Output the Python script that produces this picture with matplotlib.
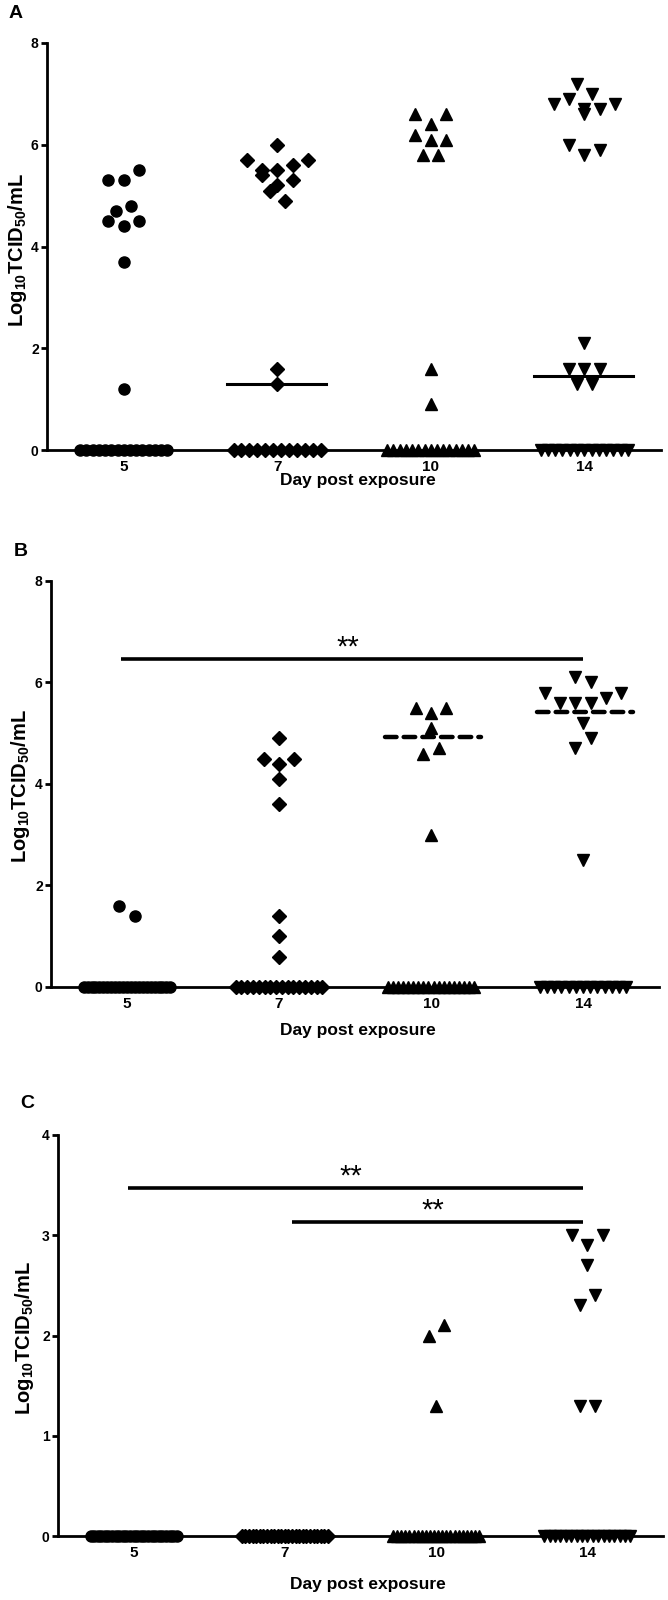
import numpy as np
import matplotlib
matplotlib.use("Agg")
import matplotlib.pyplot as plt

plt.rcParams['font.family'] = ['Liberation Sans', 'DejaVu Sans']
plt.rcParams['font.weight'] = 'bold'
plt.rcParams['mathtext.fontset'] = 'custom'
plt.rcParams['mathtext.rm'] = 'Liberation Sans:bold'
plt.rcParams['mathtext.it'] = 'Liberation Sans:bold'
plt.rcParams['mathtext.bf'] = 'Liberation Sans:bold'
plt.rcParams['mathtext.default'] = 'rm'

# ---------------- data ----------------
days = ["5", "7", "10", "14"]
markers = ['o', 'D', '^', 'v']

# Panel A
A_day5 = [5.3, 5.3, 5.5, 4.7, 4.8, 4.5, 4.4, 4.5, 3.7, 1.2,
          0, 0, 0, 0, 0, 0, 0, 0, 0, 0, 0, 0, 0, 0, 0]
A_day7 = [6.0, 5.7, 5.5, 5.5, 5.6, 5.7, 5.4, 5.2, 5.3, 5.1, 4.9, 1.6, 1.3,
          0, 0, 0, 0, 0, 0, 0, 0, 0, 0, 0, 0]
A_day10 = [6.6, 6.4, 6.6, 6.2, 6.1, 6.1, 5.8, 5.8, 1.6, 0.9,
           0, 0, 0, 0, 0, 0, 0, 0, 0, 0, 0, 0, 0, 0, 0]
A_day14 = [7.2, 7.0, 6.8, 6.9, 6.7, 6.7, 6.8, 6.6, 6.0, 5.8, 5.9,
           2.1, 1.6, 1.6, 1.6, 1.3, 1.3,
           0, 0, 0, 0, 0, 0, 0, 0, 0, 0, 0, 0, 0]
A_lines = [None, 1.3, None, 1.45]          # solid summary lines

# Panel B
B_day5 = [1.6, 1.4,
          0, 0, 0, 0, 0, 0, 0, 0, 0, 0, 0, 0, 0, 0, 0, 0, 0, 0, 0, 0, 0, 0, 0]
B_day7 = [4.9, 4.5, 4.4, 4.5, 4.1, 3.6, 1.4, 1.0, 0.6,
          0, 0, 0, 0, 0, 0, 0, 0, 0, 0, 0, 0, 0, 0, 0, 0]
B_day10 = [5.5, 5.4, 5.5, 5.1, 4.6, 4.7, 3.0,
           0, 0, 0, 0, 0, 0, 0, 0, 0, 0, 0, 0, 0, 0, 0, 0, 0, 0]
B_day14 = [6.1, 6.0, 5.8, 5.6, 5.6, 5.6, 5.7, 5.8, 5.2, 4.7, 4.9, 2.5,
           0, 0, 0, 0, 0, 0, 0, 0, 0, 0, 0, 0, 0]
B_lines = [None, None, 4.93, 5.42]         # dashed summary lines
B_sig = [(-0.04, 3.0, 6.46, "**")]         # (from, to, level, label)

# Panel C
C_day5 = [0, 0, 0, 0, 0, 0, 0, 0, 0, 0, 0, 0, 0, 0, 0, 0, 0, 0, 0, 0, 0, 0, 0, 0, 0]
C_day7 = [0, 0, 0, 0, 0, 0, 0, 0, 0, 0, 0, 0, 0, 0, 0, 0, 0, 0, 0, 0, 0, 0, 0, 0, 0]
C_day10 = [2.0, 2.1, 1.3,
           0, 0, 0, 0, 0, 0, 0, 0, 0, 0, 0, 0, 0, 0, 0, 0, 0, 0, 0, 0, 0, 0]
C_day14 = [3.0, 2.9, 3.0, 2.7, 2.3, 2.4, 1.3, 1.3,
           0, 0, 0, 0, 0, 0, 0, 0, 0, 0, 0, 0, 0, 0, 0, 0, 0]
C_sig = [(-0.04, 2.97, 3.47, "**"), (1.05, 2.97, 3.13, "**")]

ylabel = r'Log$_{10}$TCID$_{50}$/mL'
xlabel = 'Day post exposure'

# ---------------- layout helpers ----------------
W, H = 668, 1600
fig = plt.figure(figsize=(W / 100, H / 100), dpi=100)


def px_axes(x0, x1, ytop, ybot):
    ax = fig.add_axes([x0 / W, 1 - ybot / H, (x1 - x0) / W, (ybot - ytop) / H])
    ax.set_xlim(-0.5, 3.5)
    return ax


def swarm_offsets(values, row_tol=0.25, step=0.1, max_width=0.57):
    vals = np.asarray(values, dtype=float)
    order = np.argsort(-vals, kind='stable')
    rows = []
    for i in order:
        if rows and vals[rows[-1][0]] - vals[i] <= row_tol + 1e-9:
            rows[-1].append(i)
        else:
            rows.append([i])
    offs = np.zeros(len(vals))
    for r in rows:
        r = sorted(r)
        n = len(r)
        s = step if (n - 1) * step <= max_width else max_width / (n - 1)
        for k, idx in enumerate(r):
            offs[idx] = (k - (n - 1) / 2) * s
    return offs


def draw_panel(ax, groups, ymax, yticks, lines=None, dashed=False, sigs=()):
    for i, (vals, m) in enumerate(zip(groups, markers)):
        offs = swarm_offsets(vals)
        ms = 8 if m == 'o' else (7 if m == 'D' else 8.5)
        ax.plot(i + offs, vals, linestyle='none', marker=m, ms=ms,
                color='black', mec='black', clip_on=False, zorder=5)
    if lines:
        for i, v in enumerate(lines):
            if v is None:
                continue
            if dashed:
                ax.plot([i - 0.30, i + 0.33], [v, v], color='black', lw=3.2,
                        linestyle=(0, (2.6, 1.6)), dash_capstyle='round',
                        zorder=6)
            else:
                ax.plot([i - 0.33, i + 0.32], [v, v], color='black', lw=2.2,
                        zorder=6)
    for (a, b, y, t) in sigs:
        ax.plot([a, b], [y, y], color='black', lw=2.6,
                solid_capstyle='butt', clip_on=False)
        ax.annotate(t, ((a + b) / 2 - 0.03, y), xytext=(0, 2.5),
                    textcoords='offset points', ha='center', va='baseline',
                    fontsize=21, fontweight='normal')
    ax.set_ylim(0, ymax)
    ax.set_yticks(yticks)
    ax.set_xticks(range(4))
    ax.set_xticklabels(days)
    for s in ['top', 'right']:
        ax.spines[s].set_visible(False)
    for s in ['left', 'bottom']:
        ax.spines[s].set_linewidth(2)
    ax.spines['bottom'].set_zorder(4)
    ax.tick_params(axis='y', length=4, width=2, labelsize=10, pad=2)
    ax.tick_params(axis='x', length=0, labelsize=11, pad=7)


def ftext(x, y, s, **kw):
    fig.text(x / W, 1 - y / H, s, **kw)


# Panel A
axA = px_axes(47, 661, 43, 450)
draw_panel(axA, [A_day5, A_day7, A_day10, A_day14], 8, [0, 2, 4, 6, 8],
           lines=A_lines)
ftext(16, 14, 'A', fontsize=14, ha='center', va='center')
ftext(18, 250, ylabel, rotation=90, fontsize=14.5, ha='center', va='center')
ftext(358, 481, xlabel, fontsize=12.5, ha='center', va='center')

# Panel B
axB = px_axes(51, 659, 581, 987)
draw_panel(axB, [B_day5, B_day7, B_day10, B_day14], 8, [0, 2, 4, 6, 8],
           lines=B_lines, dashed=True, sigs=B_sig)
ftext(21, 552, 'B', fontsize=14, ha='center', va='center')
ftext(21, 786, ylabel, rotation=90, fontsize=14.5, ha='center', va='center')
ftext(358, 1031, xlabel, fontsize=12.5, ha='center', va='center')

# Panel C
axC = px_axes(58, 663, 1135, 1536)
draw_panel(axC, [C_day5, C_day7, C_day10, C_day14], 4, [0, 1, 2, 3, 4],
           sigs=C_sig)
ftext(27, 1104, 'C', fontsize=14, ha='center', va='center')
ftext(25, 1338, ylabel, rotation=90, fontsize=14.5, ha='center', va='center')
ftext(368, 1585, xlabel, fontsize=12.5, ha='center', va='center')

fig.savefig('out.png', dpi=100)
